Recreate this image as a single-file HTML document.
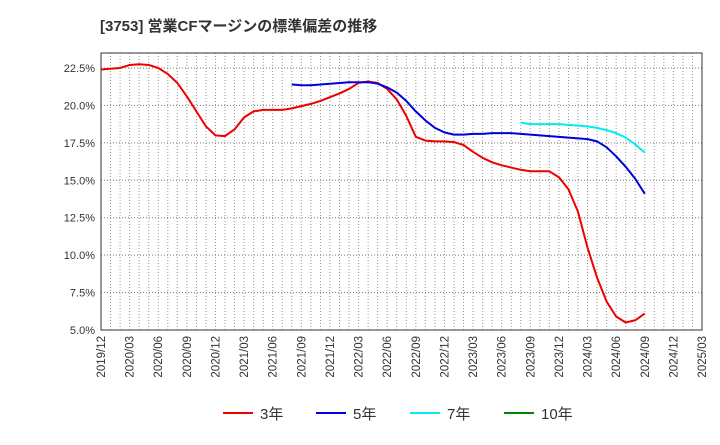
<!DOCTYPE html>
<html><head><meta charset="utf-8"><style>
body{margin:0;background:#fff;width:720px;height:440px;overflow:hidden;font-family:"Liberation Sans","Noto Sans CJK JP",sans-serif;}
</style></head><body>
<svg id="c" width="720" height="440" xmlns="http://www.w3.org/2000/svg">
<text x="100" y="31" font-size="15" font-weight="bold" fill="#333" font-family="Liberation Sans, Noto Sans CJK JP, sans-serif">[3753]  営業CFマージンの標準偏差の推移</text>
<g id="grid"></g><g id="axes"></g><g id="series"></g><g id="legend"></g>
</svg>
<script>
const xLabels=["2019/12","2020/03","2020/06","2020/09","2020/12","2021/03","2021/06","2021/09","2021/12","2022/03","2022/06","2022/09","2022/12","2023/03","2023/06","2023/09","2023/12","2024/03","2024/06","2024/09","2024/12","2025/03"];
const yTicks=[5.0,7.5,10.0,12.5,15.0,17.5,20.0,22.5];
const s3Start=0;
const s3=[22.4,22.45,22.5,22.7,22.75,22.7,22.5,22.1,21.5,20.6,19.6,18.6,18.0,17.95,18.4,19.2,19.6,19.7,19.7,19.7,19.8,19.95,20.1,20.3,20.55,20.8,21.1,21.5,21.6,21.5,21.1,20.4,19.3,17.9,17.65,17.6,17.6,17.55,17.35,16.9,16.5,16.2,16.0,15.85,15.7,15.6,15.6,15.6,15.2,14.4,12.9,10.5,8.5,6.9,5.9,5.5,5.65,6.1];
const s5Start=20;
const s5=[21.4,21.35,21.35,21.4,21.45,21.5,21.55,21.55,21.55,21.45,21.2,20.85,20.3,19.6,19.0,18.5,18.2,18.05,18.05,18.1,18.1,18.15,18.15,18.15,18.1,18.05,18.0,17.95,17.9,17.85,17.8,17.75,17.6,17.2,16.6,15.9,15.1,14.1];
const s7Start=44;
const s7=[18.85,18.75,18.75,18.75,18.75,18.7,18.65,18.6,18.5,18.35,18.15,17.85,17.4,16.85];
const L=101,R=702,T=53,B=330,NM=63,YMIN=5,YMAX=23.5;
const xs=m=>L+(R-L)*m/NM, ys=v=>B-(B-T)*(v-YMIN)/(YMAX-YMIN);
const NS="http://www.w3.org/2000/svg";
function mk(p,t,a){const e=document.createElementNS(NS,t);for(const k in a)e.setAttribute(k,a[k]);p.appendChild(e);return e;}
const grid=document.getElementById('grid'),axes=document.getElementById('axes'),ser=document.getElementById('series'),leg=document.getElementById('legend');
for(let m=1;m<NM;m++){const l=mk(grid,'line',{x1:xs(m),x2:xs(m),y1:T,y2:B,stroke:'#999','stroke-dasharray':'1,2','stroke-width':1});

}
yTicks.forEach(v=>{const l=mk(grid,'line',{x1:L,x2:R,y1:ys(v),y2:ys(v),stroke:'#777','stroke-dasharray':'1,2','stroke-width':1});


const t=mk(axes,'text',{x:L-6,y:ys(v)+4,'text-anchor':'end','font-size':11,fill:'#333'});t.textContent=v.toFixed(1)+'%';

});
const fr=mk(axes,'rect',{x:L,y:T,width:R-L,height:B-T,fill:'none',stroke:'#333','stroke-width':1});


xLabels.forEach((s,i)=>{const x=xs(i*3),y=B+6;const t=mk(axes,'text',{x:x+4,y:y,'text-anchor':'end','font-size':11.5,fill:'#333',transform:`rotate(-90 ${x+4} ${y})`});t.textContent=s;

});
function line(arr,st,col,name){const p=mk(ser,'polyline',{points:arr.map((v,i)=>xs(st+i)+','+ys(v)).join(' '),fill:'none',stroke:col,'stroke-width':2,'stroke-linejoin':'round'});

}
line(s3,s3Start,'#ee0000','series-3y');
line(s5,s5Start,'#0000dd','series-5y');
line(s7,s7Start,'#00eeee','series-7y');
[["3年","#ee0000",223],["5年","#0000dd",316],["7年","#00eeee",410],["10年","#008800",504]].forEach(([n,c,x])=>{
const g=mk(leg,'g',{});


mk(g,'line',{x1:x,x2:x+30,y1:413,y2:413,stroke:c,'stroke-width':2});
const t=mk(g,'text',{x:x+37,y:419,'font-size':15,fill:'#333'});t.textContent=n;});
</script>
</body></html>
